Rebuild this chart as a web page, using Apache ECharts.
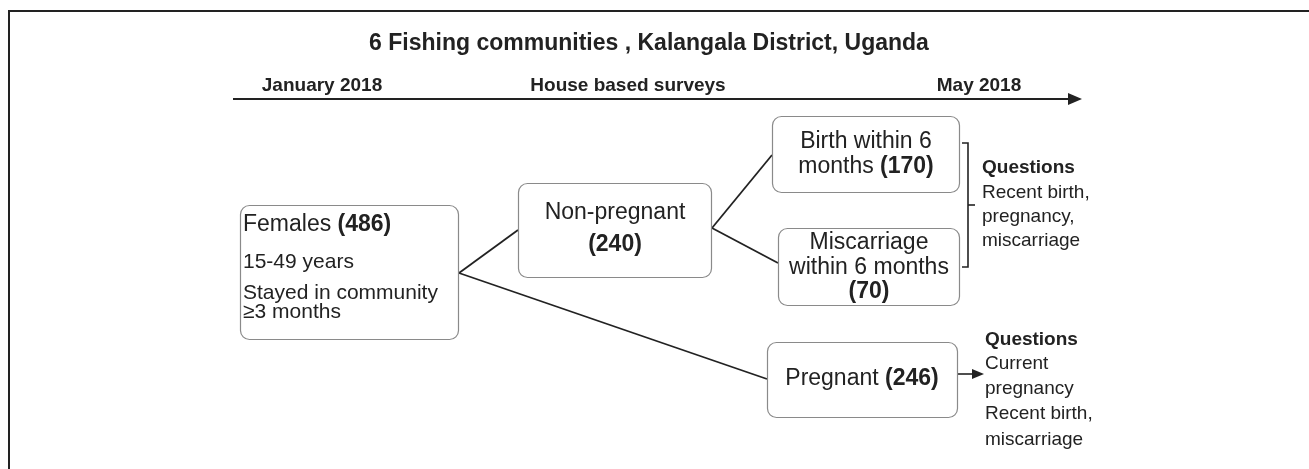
<!DOCTYPE html>
<html>
<head>
<meta charset="utf-8">
<script src="https://cdn.jsdelivr.net/npm/echarts@6/dist/echarts.min.js"></script>
<style>
html,body{margin:0;padding:0;background:#fff;}
#c{width:1309px;height:469px;}
</style>
</head>
<body>
<div id="c"></div>
<script>
// ---------- data ----------
const titleText = '6 Fishing communities , Kalangala District, Uganda';
const timelineLabels = ['January 2018', 'House based surveys', 'May 2018'];
const nodeLabels = ['Females', 'Non-pregnant', 'Birth within 6\nmonths', 'Miscarriage\nwithin 6 months', 'Pregnant'];
const nodeCounts = [486, 240, 170, 70, 246];
const femaleCriteria = ['15-49 years', 'Stayed in community', '\u22653 months'];
const questionsHeader = 'Questions';
const questionsNonPregnant = ['Recent birth,', 'pregnancy,', 'miscarriage'];
const questionsPregnant = ['Current', 'pregnancy', 'Recent birth,', 'miscarriage'];
const edges = [[0, 1], [0, 4], [1, 2], [1, 3]];

// ---------- layout (positions / sizes / styles) ----------
const FONT = "'Liberation Sans', Arial, Helvetica, sans-serif";
const INK = '#222';
const nodeLayout = [
  { box: [240, 205, 458, 339], tx: 243, align: 'left',   ly: [225, 262, 293, 312], fs: [23, 21, 21, 21], countOwnLine: false },
  { box: [518, 183, 711, 277], tx: 615, align: 'center', ly: [213, 245],           fs: [23, 23],         countOwnLine: true },
  { box: [772, 116, 959, 192], tx: 866, align: 'center', ly: [142, 167],           fs: [23, 23],         countOwnLine: false },
  { box: [778, 228, 959, 305], tx: 869, align: 'center', ly: [243, 268, 292],      fs: [23, 23, 23],     countOwnLine: true },
  { box: [767, 342, 957, 417], tx: 862, align: 'center', ly: [379],                fs: [23],             countOwnLine: false }
];
const edgeAnchors = [[459, 273, 518, 230], [459, 273, 767, 379], [712, 228, 772, 155], [712, 228, 778, 263]];
const timelineLabelX = [322, 628, 979];
const timelineLabelY = 86;
const q1Layout = { x: 982, ys: [168, 193, 217, 241] };
const q2Layout = { x: 985, ys: [340, 364, 389, 414, 440] };

function textEl(api, str, x, y, size, align, bold) {
  const p = api.coord([x, y]);
  return {
    type: 'text',
    style: {
      text: str, x: p[0], y: p[1], align: align, verticalAlign: 'middle',
      fill: INK, fontSize: size, fontFamily: FONT, fontWeight: bold ? 'bold' : 'normal',
      rich: { b: { fontSize: size, fontFamily: FONT, fontWeight: 'bold', fill: INK } }
    }
  };
}
function lineEl(api, pts, w) {
  return { type: 'polyline', shape: { points: pts.map(q => api.coord(q)) }, style: { stroke: INK, lineWidth: w, fill: null } };
}
function triEl(api, pts) {
  return { type: 'polygon', shape: { points: pts.map(q => api.coord(q)) }, style: { fill: INK } };
}
function nodeLines(i, c) {
  const lines = nodeLabels[i].split('\n');
  const cnt = '{b|(' + c + ')}';
  if (nodeLayout[i].countOwnLine) lines.push(cnt);
  else lines[lines.length - 1] += ' ' + cnt;
  if (i === 0) femaleCriteria.forEach(t => lines.push(t));
  return lines;
}

const chart = echarts.init(document.getElementById('c'), null, { renderer: 'canvas' });
chart.setOption({
  animation: false,
  backgroundColor: '#fff',
  grid: { left: 0, right: 0, top: 0, bottom: 0 },
  xAxis: { type: 'value', min: 0, max: 1309, show: false },
  yAxis: { type: 'value', min: 0, max: 469, inverse: true, show: false },
  series: [
    // decorations: frame, title, timeline, brackets, question texts
    {
      type: 'custom', coordinateSystem: 'cartesian2d', clip: false, silent: true,
      data: [[0, 0]],
      renderItem: function (params, api) {
        const ch = [];
        ch.push(lineEl(api, [[9, 469], [9, 11], [1309, 11]], 2));
        ch.push(textEl(api, titleText, 649, 44, 23, 'center', true));
        timelineLabels.forEach((t, k) => ch.push(textEl(api, t, timelineLabelX[k], timelineLabelY, 19, 'center', true)));
        ch.push(lineEl(api, [[233, 99], [1070, 99]], 2.2));
        ch.push(triEl(api, [[1068, 93], [1082, 99], [1068, 105]]));
        // bracket for non-pregnant outcomes
        ch.push(lineEl(api, [[962, 143], [968, 143], [968, 267], [962, 267]], 1.6));
        ch.push(lineEl(api, [[968, 205], [975, 205]], 1.6));
        ch.push(textEl(api, questionsHeader, q1Layout.x, q1Layout.ys[0], 19, 'left', true));
        questionsNonPregnant.forEach((t, k) => ch.push(textEl(api, t, q1Layout.x, q1Layout.ys[k + 1], 19, 'left', false)));
        // arrow from pregnant box
        ch.push(lineEl(api, [[957, 374], [974, 374]], 1.6));
        ch.push(triEl(api, [[972, 369], [984, 374], [972, 379]]));
        ch.push(textEl(api, questionsHeader, q2Layout.x, q2Layout.ys[0], 19, 'left', true));
        questionsPregnant.forEach((t, k) => ch.push(textEl(api, t, q2Layout.x, q2Layout.ys[k + 1], 19, 'left', false)));
        return { type: 'group', children: ch };
      }
    },
    // edges
    {
      type: 'custom', coordinateSystem: 'cartesian2d', clip: false, silent: true,
      data: edges.map((e, k) => [k, e[0], e[1]]),
      renderItem: function (params, api) {
        const a = edgeAnchors[api.value(0)];
        return lineEl(api, [[a[0], a[1]], [a[2], a[3]]], 1.8);
      }
    },
    // boxes
    {
      type: 'custom', coordinateSystem: 'cartesian2d', clip: false, silent: true,
      data: nodeCounts.map((c, i) => [i, c]),
      renderItem: function (params, api) {
        const i = api.value(0), c = api.value(1);
        const L = nodeLayout[i];
        const a = api.coord([L.box[0], L.box[1]]), b = api.coord([L.box[2], L.box[3]]);
        const ch = [{
          type: 'rect',
          shape: { x: Math.round(a[0]) + 0.5, y: Math.round(a[1]) + 0.5, width: Math.round(b[0] - a[0]), height: Math.round(b[1] - a[1]), r: 9 },
          style: { fill: '#fff', stroke: '#8a8a8a', lineWidth: 1.2 }
        }];
        nodeLines(i, c).forEach((t, k) => ch.push(textEl(api, t, L.tx, L.ly[k], L.fs[k], L.align, false)));
        return { type: 'group', children: ch };
      }
    }
  ]
});
</script>
</body>
</html>
